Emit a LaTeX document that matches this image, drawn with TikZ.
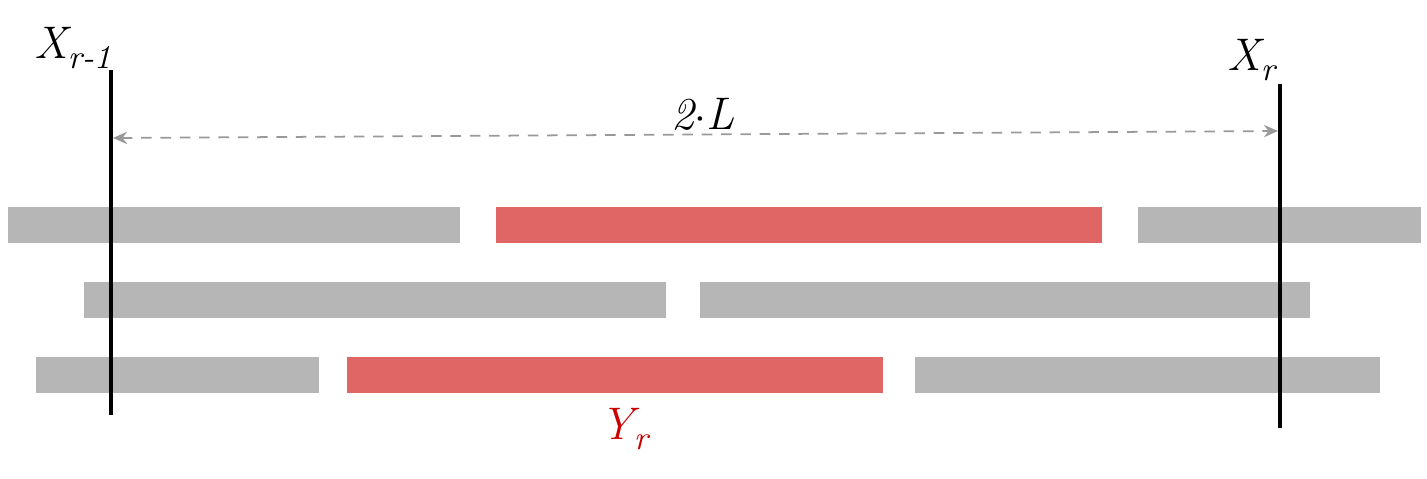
\documentclass[tikz,border=0pt]{standalone}
\usetikzlibrary{arrows.meta}
\definecolor{bargray}{HTML}{B6B6B6}
\definecolor{barred}{HTML}{E06666}
\definecolor{txtred}{HTML}{CC0000}
\definecolor{arrgray}{HTML}{999999}
\tikzset{
  bar/.style={fill=bargray, draw=none, inner sep=0pt, minimum height=0.36cm, anchor=west},
  redbar/.style={bar, fill=barred},
  marker/.style={line width=1.1pt, black},
  lbl/.style={font=\fontsize{13}{16}\selectfont\itshape, inner sep=0pt},
  dim/.style={arrgray, line width=0.5pt, dash pattern=on 3pt off 2.5pt, {Stealth[length=4pt,width=3.5pt]}-{Stealth[length=4pt,width=3.5pt]}}
}
\newcommand{\subsc}[1]{\raisebox{-0.55ex}{\fontsize{9.5}{11}\selectfont #1}}
\begin{document}
\begin{tikzpicture}[x=1cm,y=1cm]
\useasboundingbox (0,0) rectangle (14.27,4.78);
% row 1
\node[bar, minimum width=4.52cm] (b11) at (0.07,2.53) {};
\node[redbar, minimum width=6.06cm] (b12) at (4.95,2.53) {};
\node[bar, minimum width=2.83cm] (b13) at (11.37,2.53) {};
% row 2
\node[bar, minimum width=5.82cm] (b21) at (0.83,1.78) {};
\node[bar, minimum width=6.10cm] (b22) at (6.99,1.78) {};
% row 3
\node[bar, minimum width=2.83cm] (b31) at (0.35,1.03) {};
\node[redbar, minimum width=5.36cm] (b32) at (3.46,1.03) {};
\node[bar, minimum width=4.65cm] (b33) at (9.14,1.03) {};
% vertical markers
\coordinate (Lt) at (1.11,4.08);
\coordinate (Lb) at (1.11,0.63);
\coordinate (Rt) at (12.80,3.94);
\coordinate (Rb) at (12.80,0.50);
\draw[marker] (Lt) -- (Lb);
\draw[marker] (Rt) -- (Rb);
% dimension arrow
\coordinate (A1) at (1.13,3.40);
\coordinate (A2) at (12.78,3.47);
\draw[dim] (A1) -- (A2);
% labels
\node[lbl, anchor=west] (xl) at (0.34,4.30) {X\subsc{r-1}};
\node[lbl, anchor=west] (xr) at (12.27,4.18) {X\subsc{r}};
\node[lbl] (twoL) at (7.03,3.64) {2$\cdot$L};
\node[lbl, text=txtred, anchor=west] (yr) at (6.00,0.49) {Y\subsc{r}};
\end{tikzpicture}
\end{document}
